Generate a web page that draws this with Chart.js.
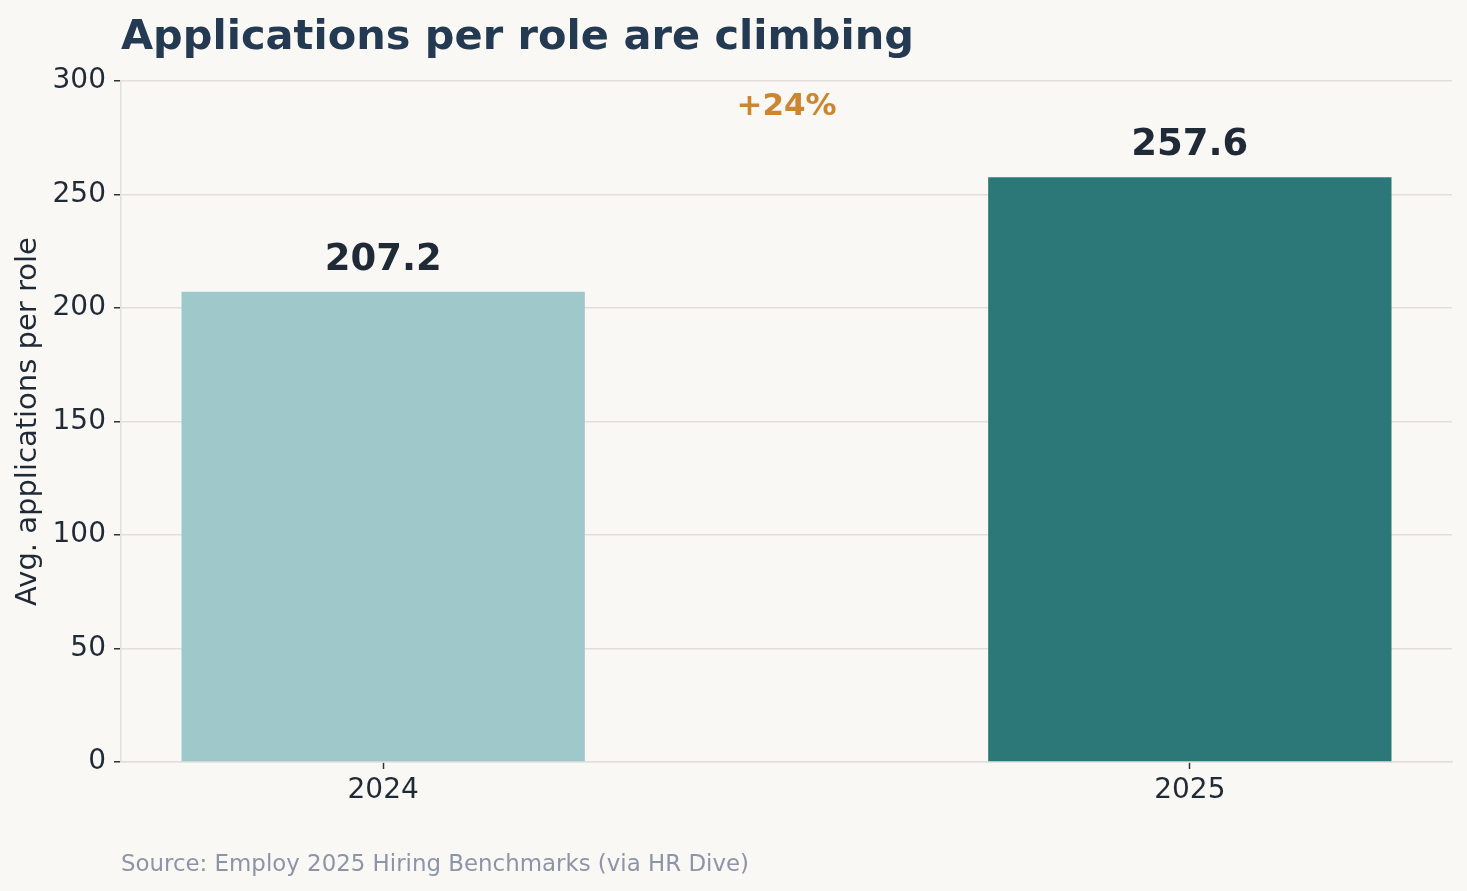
<!DOCTYPE html>
<html>
<head>
<meta charset="utf-8">
<title>Applications per role are climbing</title>
<script src="https://cdn.jsdelivr.net/npm/chart.js@4/dist/chart.umd.min.js"></script>
<style>
  html, body {
    margin: 0;
    padding: 0;
    background: #f9f8f5;
  }
  #wrap {
    position: relative;
    width: 1467px;
    height: 891px;
  }
</style>
</head>
<body>
<div id="wrap"><canvas id="appsChart"></canvas></div>
<script>
const years = ["2024", "2025"];
const avgApplications = [207.2, 257.6];
const valueLabels = ["207.2", "257.6"];
const changeLabel = "+24%";
const barColors = ["#9ec8ca", "#2c7879"];

const titleText = "Applications per role are climbing";
const sourceText = "Source: Employ 2025 Hiring Benchmarks (via HR Dive)";
const yTitle = "Avg. applications per role";

const FONT = "'DejaVu Sans', sans-serif";
const darkText = "#1f2a36";
const gridColor = "#e2dfda";

// titles, value labels and the change note
const annotate = {
  id: "annotate",
  afterDatasetsDraw(chart) {
    const ctx = chart.ctx;
    const area = chart.chartArea;
    const xScale = chart.scales.x;
    const yScale = chart.scales.y;
    const meta = chart.getDatasetMeta(0);

    ctx.save();
    ctx.textAlign = "center";
    ctx.textBaseline = "alphabetic";
    ctx.fillStyle = darkText;
    ctx.font = `bold 37px ${FONT}`;
    meta.data.forEach((bar, i) => {
      ctx.fillText(valueLabels[i], bar.x, bar.y - 22);
    });

    ctx.fillStyle = "#cc8530";
    ctx.font = `bold 31px ${FONT}`;
    ctx.fillText(changeLabel, xScale.getPixelForValue(0.5), yScale.getPixelForValue(285));

    ctx.textAlign = "left";
    ctx.fillStyle = "#243a52";
    ctx.font = `bold 41.5px ${FONT}`;
    ctx.fillText(titleText, area.left, 49);

    ctx.fillStyle = "#8b95a7";
    ctx.font = `22.9px ${FONT}`;
    ctx.fillText(sourceText, area.left, 871);
    ctx.restore();
  },
};

new Chart(document.getElementById("appsChart"), {
  type: "bar",
  data: {
    datasets: [
      {
        data: avgApplications.map((v, i) => ({ x: i, y: v })),
        backgroundColor: barColors,
        borderWidth: 0,
        categoryPercentage: 1,
        barPercentage: 0.5,
      },
    ],
  },
  options: {
    responsive: true,
    maintainAspectRatio: false,
    animation: false,
    layout: { padding: { left: 0, top: 81, right: 15, bottom: 0 } },
    plugins: {
      legend: { display: false },
      tooltip: { enabled: false },
    },
    scales: {
      x: {
        type: "linear",
        min: -0.325,
        max: 1.325,
        offset: false,
        afterBuildTicks: (scale) => {
          scale.ticks = years.map((_, i) => ({ value: i }));
        },
        afterFit: (scale) => {
          scale.height = 129;
        },
        ticks: {
          callback: (v) => years[v],
          color: darkText,
          font: { family: FONT, size: 28 },
          padding: 5,
          maxRotation: 0,
        },
        grid: {
          offset: false,
          drawOnChartArea: false,
          tickColor: "#2b3542",
          tickLength: 7,
          tickWidth: 1.5,
        },
        border: { color: gridColor, width: 1.5 },
      },
      y: {
        min: 0,
        max: 300,
        afterFit: (scale) => {
          scale.width = 121;
        },
        ticks: {
          stepSize: 50,
          color: darkText,
          font: { family: FONT, size: 28 },
          padding: 8,
        },
        grid: {
          color: gridColor,
          lineWidth: 1.5,
          tickColor: "#2b3542",
          tickLength: 7,
          tickWidth: 1.5,
        },
        border: { color: gridColor, width: 1.5 },
        title: {
          display: true,
          text: yTitle,
          color: darkText,
          font: { family: FONT, size: 29 },
          padding: { top: 11, bottom: 0 },
        },
      },
    },
  },
  plugins: [annotate],
});
</script>
</body>
</html>
